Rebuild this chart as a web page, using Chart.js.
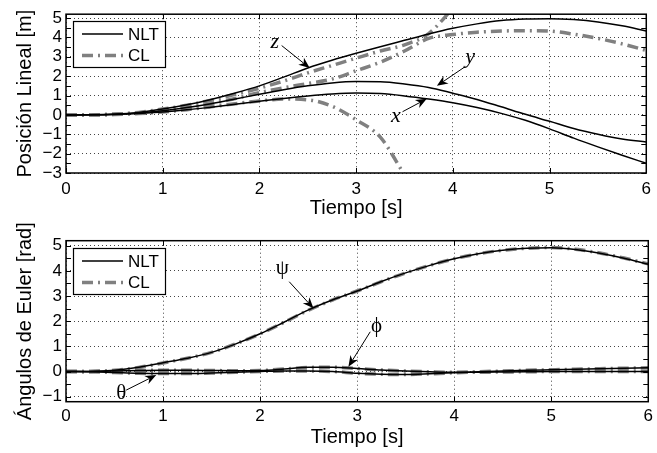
<!DOCTYPE html>
<html><head><meta charset="utf-8">
<script src="https://cdn.jsdelivr.net/npm/chart.js@4.4.1/dist/chart.umd.min.js"></script>
<style>
html,body{margin:0;padding:0;background:#fff;}
#wrap{position:relative;width:657px;height:453px;overflow:hidden;background:#fff;}
canvas{position:absolute;left:0;}
</style></head><body>
<div id="wrap">
<canvas id="c2" width="657" height="257" style="top:196px"></canvas>
<canvas id="c1" width="657" height="226" style="top:0px"></canvas>
</div>
<script>
// ---------- data ----------
const time = [0,0.25,0.5,0.75,1,1.25,1.5,1.75,2,2.25,2.5,2.75,3,3.25,3.5,3.75,4,4.25,4.5,4.75,5,5.25,5.5,5.75,6];
const xTickVals = [0,1,2,3,4,5,6];

// Posición lineal [m]
const nltX = [0,0.002,0.02,0.07,0.15,0.26,0.4,0.55,0.7,0.85,0.98,1.08,1.13,1.1,0.98,0.82,0.63,0.38,0.08,-0.28,-0.72,-1.2,-1.65,-2.08,-2.5];
const nltY = [0,0.003,0.03,0.1,0.22,0.38,0.58,0.82,1.07,1.3,1.5,1.65,1.72,1.71,1.6,1.42,1.12,0.8,0.42,0.03,-0.33,-0.7,-1.0,-1.25,-1.4];
const nltZ = [0,0.005,0.04,0.13,0.3,0.52,0.8,1.13,1.5,1.95,2.42,2.82,3.18,3.52,3.85,4.18,4.47,4.7,4.87,4.95,4.97,4.92,4.8,4.6,4.33];
const clX  = [0,0.002,0.02,0.07,0.15,0.27,0.42,0.58,0.72,0.82,0.78,0.45,-0.25,-1.15,-3.1,null,null,null,null,null,null,null,null,null,null];
const clY  = [0,0.003,0.03,0.1,0.2,0.36,0.58,0.85,1.15,1.4,1.62,1.85,2.28,2.72,3.3,3.95,4.15,4.27,4.33,4.35,4.33,4.17,3.95,3.67,3.33];
const clZ  = [0,0.005,0.04,0.13,0.3,0.5,0.76,1.06,1.38,1.75,2.17,2.55,2.93,3.3,3.62,4.2,5.5,null,null,null,null,null,null,null,null];
const yTicksTop = [-3,-2,-1,0,1,2,3,4,5];
const yMinorTop = [-3,-2.5,-2,-1.5,-1,-0.5,0,0.5,1,1.5,2,2.5,3,3.5,4,4.5,5];

// Ángulos de Euler [rad]
const nltPsi   = [0,0.005,0.05,0.17,0.35,0.53,0.76,1.1,1.5,1.97,2.45,2.85,3.2,3.58,3.92,4.22,4.48,4.68,4.82,4.9,4.92,4.85,4.7,4.5,4.26];
const nltPhi   = [0,0.005,0.02,0.04,0.05,0.05,0.04,0.03,0.04,0.1,0.17,0.17,0.12,0.06,0.02,-0.01,-0.03,-0.03,-0.02,-0.01,0,0,0,0,0];
const nltTheta = [0,-0.01,-0.04,-0.07,-0.08,-0.08,-0.06,-0.03,0,0.02,0.02,0,-0.07,-0.11,-0.12,-0.09,-0.05,-0.01,0.02,0.05,0.07,0.09,0.11,0.13,0.15];
const clPsi    = [0,0.005,0.05,0.16,0.34,0.53,0.76,1.1,1.5,1.96,2.44,2.85,3.2,3.57,3.92,4.22,4.48,4.68,4.82,4.9,4.93,4.86,4.71,4.51,4.28];
const clPhi    = [0,0.005,0.02,0.04,0.05,0.05,0.04,0.03,0.04,0.1,0.16,0.17,0.12,0.06,0.02,-0.01,-0.03,-0.03,-0.02,-0.01,0,0,0,0,0];
const clTheta  = [0,-0.01,-0.04,-0.07,-0.08,-0.08,-0.06,-0.03,0,0.02,0.02,0,-0.07,-0.11,-0.12,-0.09,-0.05,-0.01,0.02,0.05,0.07,0.09,0.11,0.13,0.15];
const yTicksBot = [-1,0,1,2,3,4,5];
const yMinorBot = [-1,-0.5,0,0.5,1,1.5,2,2.5,3,3.5,4,4.5,5];

// ---------- styling ----------
const SANS = '"Liberation Sans", Arial, Helvetica, sans-serif';
const SERIF = '"Liberation Serif", "Times New Roman", serif';
const GRAY = '#808080';
const CL_DASH = [11,5,2,5];

function pts(arr){ return time.map((t,i)=>({x:t, y:arr[i]})); }
function nlt(label, arr, legend){ return {label, data:pts(arr), borderColor:'#000', borderWidth:1.5, pointRadius:0, cubicInterpolationMode:'monotone', fill:false, clip:0, order:1, legendItem:legend, legendText:'NLT'}; }
function cl(label, arr, legend){ return {label, data:pts(arr), borderColor:GRAY, borderWidth:3.5, borderDash:CL_DASH, borderCapStyle:'butt', pointRadius:0, cubicInterpolationMode:'monotone', fill:false, clip:0, order:2, legendItem:legend, legendText:'CL'}; }

function fmt(v){ return v < 0 ? '\u2212' + Math.abs(v) : String(v); }

const decor = {
  id:'decor',
  afterDatasetsDraw(chart, args, o){
    const {ctx, chartArea:a, scales:{x, y}} = chart;
    ctx.save();
    ctx.setLineDash([]);
    ctx.strokeStyle = '#000'; ctx.lineWidth = 1;
    ctx.beginPath();
    o.xTicks.forEach(v=>{ const px = Math.round(x.getPixelForValue(v))+0.5; ctx.moveTo(px,a.bottom); ctx.lineTo(px,a.bottom-5); ctx.moveTo(px,a.top); ctx.lineTo(px,a.top+5); });
    o.yMinor.forEach(v=>{ const py = Math.round(y.getPixelForValue(v))+0.5; ctx.moveTo(a.left,py); ctx.lineTo(a.left+5,py); ctx.moveTo(a.right,py); ctx.lineTo(a.right-5,py); });
    ctx.stroke();
    ctx.lineWidth = 1.5;
    ctx.strokeRect(a.left, a.top, a.right-a.left, a.bottom-a.top);
    // legend
    const L = o.legend;
    const lx = Math.round(a.left + L.dx), ly = Math.round(a.top + L.dy);
    ctx.fillStyle = '#fff'; ctx.fillRect(lx, ly, L.w, L.h);
    ctx.lineWidth = 1.2; ctx.strokeStyle = '#000'; ctx.strokeRect(lx+0.5, ly+0.5, L.w, L.h);
    const items = chart.data.datasets.filter(d=>d.legendItem);
    items.forEach((d,i)=>{
      const yy = ly + L.rows[i];
      ctx.beginPath(); ctx.setLineDash(d.borderDash||[]); ctx.strokeStyle = d.borderColor; ctx.lineWidth = d.borderWidth; ctx.lineCap='butt';
      ctx.moveTo(lx+9, yy); ctx.lineTo(lx+50, yy); ctx.stroke(); ctx.setLineDash([]);
      ctx.fillStyle = '#000'; ctx.font = '17px ' + SANS; ctx.textBaseline = 'middle'; ctx.textAlign = 'left';
      ctx.fillText(d.legendText, lx+55, yy+1);
    });
    // annotations
    o.notes.forEach(n=>{
      const tx = x.getPixelForValue(n.text[0]), ty = y.getPixelForValue(n.text[1]);
      const sx = x.getPixelForValue(n.from[0]), sy = y.getPixelForValue(n.from[1]);
      const ex = x.getPixelForValue(n.to[0]), ey = y.getPixelForValue(n.to[1]);
      ctx.fillStyle = '#000'; ctx.font = n.font; ctx.textAlign = 'center'; ctx.textBaseline = 'middle';
      ctx.fillText(n.label, tx, ty);
      const dx = ex-sx, dy = ey-sy, len = Math.hypot(dx,dy), ux = dx/len, uy = dy/len, nx = -uy, ny = ux;
      const H = 11, W = 4.5;
      ctx.strokeStyle = '#000'; ctx.lineWidth = 1;
      ctx.beginPath(); ctx.moveTo(sx,sy); ctx.lineTo(ex-ux*H*0.7, ey-uy*H*0.7); ctx.stroke();
      ctx.beginPath();
      ctx.moveTo(ex,ey);
      ctx.lineTo(ex-ux*H+nx*W, ey-uy*H+ny*W);
      ctx.lineTo(ex-ux*H*0.7, ey-uy*H*0.7);
      ctx.lineTo(ex-ux*H-nx*W, ey-uy*H-ny*W);
      ctx.closePath(); ctx.fill();
    });
    ctx.restore();
  }
};

function makeChart(id, H, datasets, yMin, yMax, yTicks, yMinor, yLabel, areaTop, areaBottom, xTickPad, xTitlePad, notes){
  return new Chart(document.getElementById(id), {
    type:'line',
    data:{datasets},
    options:{
      responsive:false, animation:false, devicePixelRatio:1,
      layout:{padding:{top:areaTop, right:6, left:0, bottom:0}},
      plugins:{legend:{display:false}, tooltip:{enabled:false},
        decor:{xTicks:xTickVals, yMinor, legend:{dx:7, dy:7, w:92, h:46, rows:[13,34.5]}, notes}},
      scales:{
        x:{type:'linear', min:0, max:6,
          afterBuildTicks:s=>{ s.ticks = xTickVals.map(v=>({value:v})); },
          afterFit:s=>{ s.height = H - areaBottom; },
          grid:{color:'#444', lineWidth:1, drawTicks:false},
          border:{display:false, dash:[1,3]},
          ticks:{color:'#000', padding:xTickPad, autoSkip:false, font:{family:SANS, size:17, weight:'normal'}, callback:v=>fmt(v), maxRotation:0},
          title:{display:true, text:'Tiempo [s]', color:'#000', font:{family:SANS, size:20, weight:'normal'}, padding:{top:0, bottom:xTitlePad}}
        },
        y:{type:'linear', min:yMin, max:yMax,
          afterBuildTicks:s=>{ s.ticks = yTicks.map(v=>({value:v})); },
          afterFit:s=>{ s.width = 66; },
          grid:{color:'#444', lineWidth:1, drawTicks:false},
          border:{display:false, dash:[1,3]},
          ticks:{color:'#000', padding:4, autoSkip:false, font:{family:SANS, size:17, weight:'normal'}, callback:v=>fmt(v)},
          title:{display:true, text:yLabel, color:'#000', font:{family:SANS, size:20, weight:'normal'}, padding:{top:13, bottom:0}}
        }
      }
    },
    plugins:[decor]
  });
}

makeChart('c1', 226, [
  nlt('NLT x', nltX, true), nlt('NLT y', nltY), nlt('NLT z', nltZ),
  cl('CL x', clX, true), cl('CL y', clY), cl('CL z', clZ)
], -3, 5.2, yTicksTop, yMinorTop, 'Posición Lineal [m]', 10, 173, 6, 6, [
  {label:'z', font:'italic 22px '+SERIF, text:[2.16,3.75], from:[2.23,3.58], to:[2.52,2.42]},
  {label:'y', font:'italic 22px '+SERIF, text:[4.18,3.0], from:[4.13,2.5], to:[3.835,1.5]},
  {label:'x', font:'italic 22px '+SERIF, text:[3.41,-0.09], from:[3.48,0.165], to:[3.73,0.83]}
]);

makeChart('c2', 257, [
  nlt('NLT \u03c8', nltPsi, true), nlt('NLT \u03d5', nltPhi), nlt('NLT \u03b8', nltTheta),
  cl('CL \u03c8', clPsi, true), cl('CL \u03d5', clPhi), cl('CL \u03b8', clTheta)
], -1.2, 5.2, yTicksBot, yMinorBot, 'Ángulos de Euler [rad]', 44.7, 205.7, 4, 4, [
  {label:'\u03c8', font:'21px '+SERIF, text:[2.23,4.1], from:[2.30,3.57], to:[2.55,2.51]},
  {label:'\u03d5', font:'21px '+SERIF, text:[3.2,1.78], from:[3.135,1.58], to:[2.91,0.19]},
  {label:'\u03b8', font:'21px '+SERIF, text:[0.57,-0.87], from:[0.62,-0.74], to:[0.93,-0.14]}
]);
</script>
</body></html>
